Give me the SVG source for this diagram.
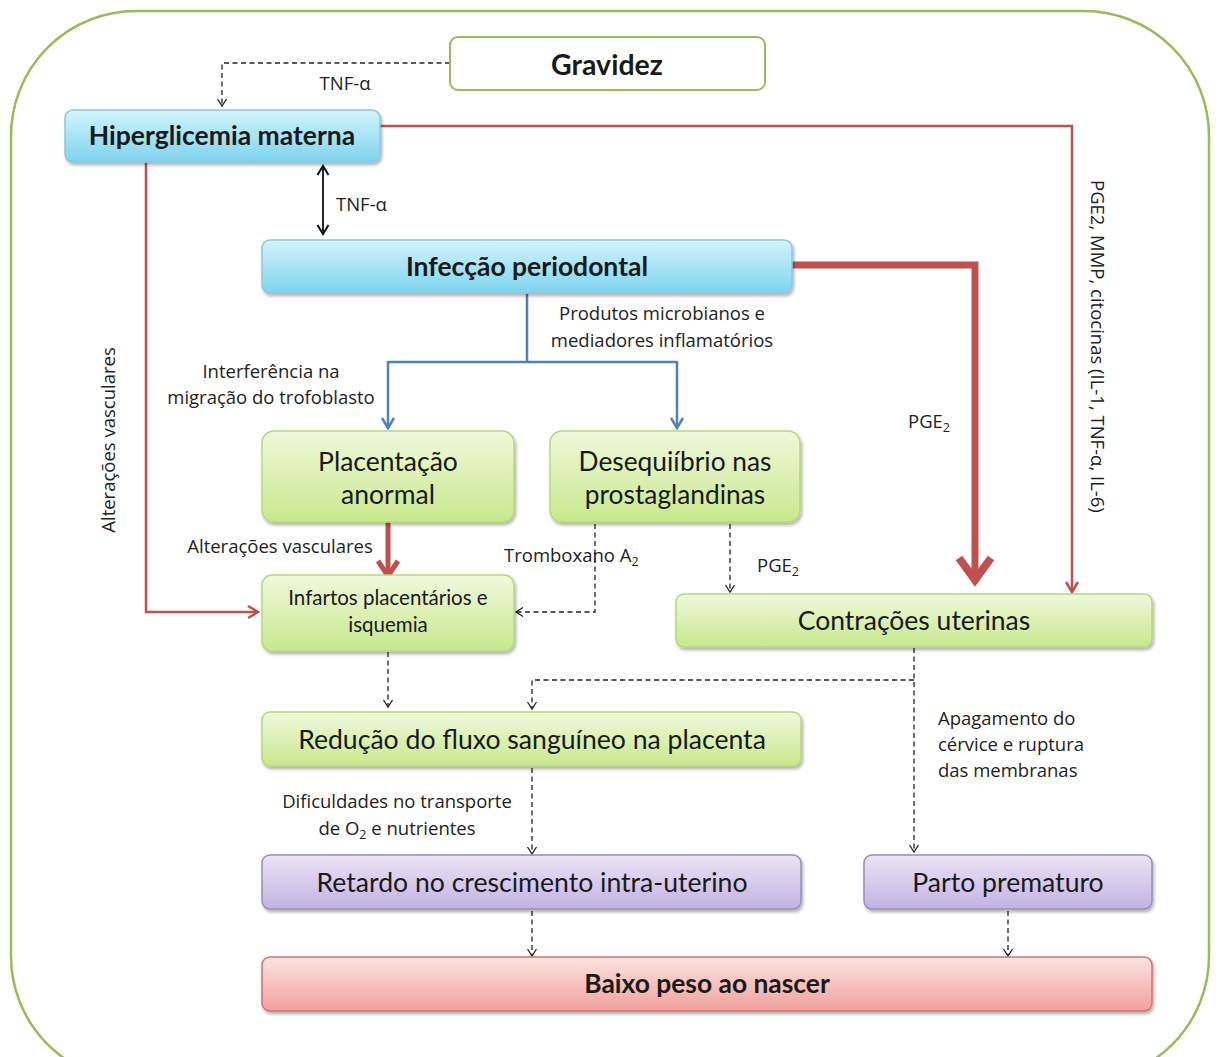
<svg xmlns="http://www.w3.org/2000/svg" width="1219" height="1057" viewBox="0 0 1219 1057">
<defs>
<linearGradient id="gBlue" x1="0" y1="0" x2="0" y2="1"><stop offset="0" stop-color="#d3f4fc"/><stop offset="1" stop-color="#7dd4ee"/></linearGradient>
<linearGradient id="gGreen" x1="0" y1="0" x2="0" y2="1"><stop offset="0" stop-color="#f0f9dc"/><stop offset="1" stop-color="#c8e88c"/></linearGradient>
<linearGradient id="gPurple" x1="0" y1="0" x2="0" y2="1"><stop offset="0" stop-color="#ece4f6"/><stop offset="1" stop-color="#c2b2e2"/></linearGradient>
<linearGradient id="gRed" x1="0" y1="0" x2="0" y2="1"><stop offset="0" stop-color="#fde4e2"/><stop offset="1" stop-color="#f0a09b"/></linearGradient>
<filter id="sh" x="-5%" y="-10%" width="110%" height="130%"><feDropShadow dx="1.5" dy="2.5" stdDeviation="1.8" flood-color="#000" flood-opacity="0.3"/></filter>
<marker id="aDash" markerUnits="userSpaceOnUse" markerWidth="14" markerHeight="14" refX="10" refY="7" orient="auto"><path d="M3,2.5 L10,7 L3,11.5" fill="none" stroke="#222" stroke-width="1.3"/></marker>
<marker id="aBlk" markerUnits="userSpaceOnUse" markerWidth="16" markerHeight="16" refX="12" refY="8" orient="auto-start-reverse"><path d="M3,2.5 L12,8 L3,13.5" fill="none" stroke="#111" stroke-width="2"/></marker>
<marker id="aBlue" markerUnits="userSpaceOnUse" markerWidth="18" markerHeight="18" refX="13" refY="9" orient="auto"><path d="M3,3 L13,9 L3,15" fill="none" stroke="#4f81bd" stroke-width="2.5"/></marker>
<marker id="aRed" markerUnits="userSpaceOnUse" markerWidth="18" markerHeight="18" refX="13" refY="9" orient="auto"><path d="M3,3 L13,9 L3,15" fill="none" stroke="#c0504d" stroke-width="2.5"/></marker>
<marker id="aRedM" markerUnits="userSpaceOnUse" markerWidth="24" markerHeight="26" refX="18" refY="13" orient="auto"><path d="M3,3 L18,13 L3,23" fill="none" stroke="#c0504d" stroke-width="5"/></marker>
<marker id="aRedB" markerUnits="userSpaceOnUse" markerWidth="34" markerHeight="40" refX="26" refY="20" orient="auto"><path d="M4,4 L26,20 L4,36" fill="none" stroke="#c0504d" stroke-width="8"/></marker>
</defs>
<style>
.box{filter:url(#sh);}
.blue{fill:url(#gBlue);stroke:#8ec6dc;stroke-width:1.5;}
.green{fill:url(#gGreen);stroke:#b5d77a;stroke-width:1.5;}
.purple{fill:url(#gPurple);stroke:#9b8bc0;stroke-width:1.5;}
.red{fill:url(#gRed);stroke:#d5706b;stroke-width:1.5;}
.t{font-family:Lato,"Liberation Sans",sans-serif;fill:#1a1a1a;text-anchor:middle;}
.b{font-weight:bold;}
.lbl{font-family:"Open Sans","DejaVu Sans",sans-serif;font-size:18.5px;fill:#222;}
.dash{fill:none;stroke:#222;stroke-width:1.3;stroke-dasharray:5,3.5;}
</style>
<rect x="11" y="11" width="1198" height="1070" rx="125" ry="125" fill="none" stroke="#9bbb59" stroke-width="2.5"/>

<g id="connectors">
<path class="dash" d="M450,63 H222 V106" marker-end="url(#aDash)"/>
<line x1="323" y1="166" x2="323" y2="234" stroke="#111" stroke-width="1.8" marker-start="url(#aBlk)" marker-end="url(#aBlk)"/>
<path d="M380,126 H1072 V592" fill="none" stroke="#c0504d" stroke-width="2.5" marker-end="url(#aRed)"/>
<path d="M792,265 H975 V580" fill="none" stroke="#c0504d" stroke-width="7" marker-end="url(#aRedB)"/>
<path d="M146,162 V612 H258" fill="none" stroke="#c0504d" stroke-width="2.5" marker-end="url(#aRed)"/>
<path d="M527,293 V362 M388,362 H677" fill="none" stroke="#4f81bd" stroke-width="2.5"/>
<path d="M388,361 V428" fill="none" stroke="#4f81bd" stroke-width="2.5" marker-end="url(#aBlue)"/>
<path d="M677,361 V428" fill="none" stroke="#4f81bd" stroke-width="2.5" marker-end="url(#aBlue)"/>
<path d="M388,522 V576" fill="none" stroke="#c0504d" stroke-width="5" marker-end="url(#aRedM)"/>
<path class="dash" d="M595,524 V612 H516" marker-end="url(#aDash)"/>
<path class="dash" d="M730,524 V592" marker-end="url(#aDash)"/>
<path class="dash" d="M388,652 V707" marker-end="url(#aDash)"/>
<path class="dash" d="M914,648 V852" marker-end="url(#aDash)"/>
<path class="dash" d="M914,680 H532 V709" marker-end="url(#aDash)"/>
<path class="dash" d="M532,768 V854" marker-end="url(#aDash)"/>
<path class="dash" d="M532,911 V956" marker-end="url(#aDash)"/>
<path class="dash" d="M1008,911 V956" marker-end="url(#aDash)"/>

<text class="lbl" x="345" y="90" text-anchor="middle">TNF-α</text>
<text class="lbl" x="336" y="211">TNF-α</text>
<text class="lbl" x="1091" y="180" transform="rotate(90 1091 180)">PGE2, MMP, citocinas (IL-1, TNF-α, IL-6)</text>
<text class="lbl" x="908" y="428">PGE<tspan font-size="12.5" dy="4">2</tspan></text>
<text class="lbl" x="115" y="440" text-anchor="middle" transform="rotate(-90 115 440)">Alterações vasculares</text>
<text class="lbl" x="662" y="320" text-anchor="middle">Produtos microbianos e</text>
<text class="lbl" x="662" y="347" text-anchor="middle">mediadores inflamatórios</text>
<text class="lbl" x="271" y="378" text-anchor="middle">Interferência na</text>
<text class="lbl" x="271" y="404" text-anchor="middle">migração do trofoblasto</text>
<text class="lbl" x="280" y="553" text-anchor="middle">Alterações vasculares</text>
<text class="lbl" x="504" y="562">Tromboxano A<tspan font-size="12.5" dy="4">2</tspan></text>
<text class="lbl" x="757" y="572">PGE<tspan font-size="12.5" dy="4">2</tspan></text>
<text class="lbl" x="938" y="725">Apagamento do</text>
<text class="lbl" x="938" y="751">cérvice e ruptura</text>
<text class="lbl" x="938" y="777">das membranas</text>
<text class="lbl" x="397" y="808" text-anchor="middle">Dificuldades no transporte</text>
<text class="lbl" x="397" y="835" text-anchor="middle">de O<tspan font-size="12.5" dy="4">2</tspan><tspan dy="-4"> e nutrientes</tspan></text>
</g>

<g id="gravidez"><rect x="450" y="37" width="315" height="53" rx="8" fill="#fff" stroke="#9bbb59" stroke-width="2"/><text class="t b" x="607" y="75" font-size="28.5">Gravidez</text></g>
<g id="hiperglicemia"><rect class="box blue" x="65" y="110" width="315" height="52" rx="8"/><text class="t b" x="222" y="145" font-size="26.5">Hiperglicemia materna</text></g>
<g id="infeccao"><rect class="box blue" x="262" y="240" width="530" height="53" rx="8"/><text class="t b" x="527" y="276" font-size="26.5">Infecção periodontal</text></g>
<g id="placentacao"><rect class="box green" x="262" y="431" width="252" height="91" rx="12"/><text class="t" x="388" y="471" font-size="26.5">Placentação</text><text class="t" x="388" y="504" font-size="26.5">anormal</text></g>
<g id="desequilibrio"><rect class="box green" x="550" y="431" width="250" height="91" rx="12"/><text class="t" x="675" y="471" font-size="26.3">Desequiíbrio nas</text><text class="t" x="675" y="504" font-size="26.3">prostaglandinas</text></g>
<g id="infartos"><rect class="box green" x="262" y="575" width="252" height="76" rx="10"/><text class="t" x="388" y="605" font-size="20.5">Infartos placentários e</text><text class="t" x="388" y="632" font-size="20.5">isquemia</text></g>
<g id="contracoes"><rect class="box green" x="676" y="594" width="476" height="53" rx="8"/><text class="t" x="914" y="630" font-size="26.5">Contrações uterinas</text></g>
<g id="reducao"><rect class="box green" x="262" y="712" width="539" height="54" rx="8"/><text class="t" x="532" y="749" font-size="26.6">Redução do fluxo sanguíneo na placenta</text></g>
<g id="retardo"><rect class="box purple" x="262" y="855" width="539" height="54" rx="8"/><text class="t" x="532" y="892" font-size="26.6">Retardo no crescimento intra-uterino</text></g>
<g id="parto"><rect class="box purple" x="864" y="855" width="288" height="54" rx="8"/><text class="t" x="1008" y="892" font-size="26.6">Parto prematuro</text></g>
<g id="baixopeso"><rect class="box red" x="262" y="957" width="890" height="54" rx="8"/><text class="t b" x="707" y="993" font-size="26.4">Baixo peso ao nascer</text></g>
</svg>
